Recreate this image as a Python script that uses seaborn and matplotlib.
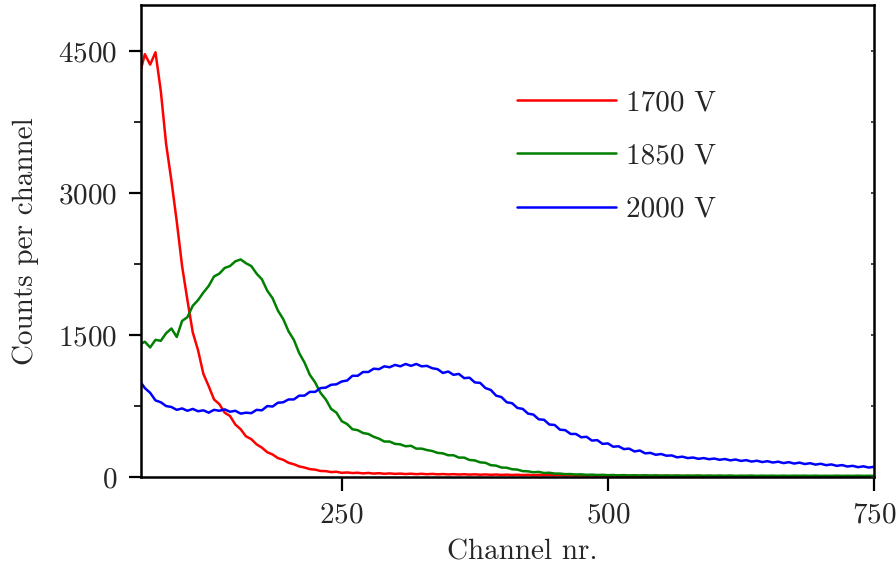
import numpy as np
import pandas as pd
import matplotlib
matplotlib.use("Agg")
import matplotlib.pyplot as plt
import seaborn as sns

# channel grid (every 5th channel)
channels = np.arange(60, 751, 5)

counts_1700 = [
    4250, 4470, 4360, 4490, 4080, 3520, 3130, 2700, 2230, 1870,
    1530, 1340, 1090, 960, 820, 770, 680, 645, 555, 505,
    430, 400, 345, 310, 262, 238, 200, 182, 150, 135,
    112, 100, 83, 78, 64, 62, 52, 55, 44, 48,
    42, 45, 38, 43, 36, 40, 34, 38, 33, 36,
    31, 35, 30, 34, 29, 33, 28, 31, 27, 30,
    26, 29, 25, 28, 24, 27, 23, 26, 22, 25,
    21, 24, 20, 23, 19, 22, 18, 21, 18, 20,
    17, 19, 16, 18, 15, 17, 14, 16, 14, 15,
    13, 15, 12, 14, 12, 13, 11, 13, 11, 12,
    10, 12, 10, 11, 9, 11, 9, 10, 9, 10,
    8, 10, 8, 9, 8, 9, 7, 9, 7, 8,
    7, 8, 7, 8, 6, 8, 6, 7, 6, 7,
    6, 7, 6, 7, 5, 6, 5, 6, 5,
]

counts_1850 = [
    1400, 1430, 1370, 1450, 1440, 1520, 1570, 1480, 1650, 1690,
    1810, 1870, 1950, 2020, 2120, 2150, 2210, 2230, 2280, 2300,
    2260, 2230, 2150, 2090, 1970, 1890, 1760, 1670, 1540, 1450,
    1310, 1210, 1080, 1000, 890, 820, 720, 680, 590, 560,
    505, 495, 465, 455, 425, 405, 375, 375, 350, 345,
    325, 330, 300, 300, 285, 275, 255, 250, 230, 230,
    205, 205, 180, 175, 155, 150, 125, 120, 100, 98,
    82, 78, 62, 60, 50, 54, 42, 45, 36, 36,
    30, 31, 26, 28, 23, 25, 21, 23, 19, 21,
    17, 20, 16, 18, 15, 18, 15, 17, 14, 16,
    14, 16, 13, 15, 14, 16, 13, 15, 13, 15,
    13, 15, 12, 14, 13, 15, 12, 14, 13, 14,
    12, 14, 12, 14, 13, 14, 12, 14, 12, 13,
    12, 14, 12, 13, 12, 14, 12, 13, 12,
]

counts_2000 = [
    1020, 940, 890, 810, 790, 750, 740, 710, 725, 700,
    720, 695, 705, 680, 710, 700, 715, 690, 700, 670,
    680, 675, 710, 705, 750, 745, 785, 790, 820, 820,
    860, 860, 900, 900, 940, 945, 975, 980, 1010, 1020,
    1070, 1070, 1110, 1110, 1145, 1140, 1170, 1160, 1185, 1170,
    1195, 1175, 1195, 1170, 1175, 1150, 1140, 1100, 1115, 1080,
    1090, 1045, 1050, 1000, 995, 940, 920, 860, 845, 790,
    780, 730, 720, 670, 660, 610, 605, 555, 550, 500,
    495, 455, 455, 420, 425, 385, 390, 350, 355, 320,
    325, 295, 300, 270, 280, 250, 255, 235, 243, 225,
    228, 208, 215, 200, 206, 192, 200, 188, 195, 182,
    190, 176, 185, 170, 178, 163, 172, 158, 167, 153,
    162, 147, 157, 142, 152, 137, 146, 131, 140, 125,
    133, 118, 126, 111, 118, 104, 113, 100, 108,
]

labels = ["1700 V", "1850 V", "2000 V"]
colors = ["#ff0000", "#008000", "#0000ff"]

df = pd.concat([
    pd.DataFrame({"channel": channels, "counts": c, "voltage": lab})
    for c, lab in zip([counts_1700, counts_1850, counts_2000], labels)
])

sns.set_style("ticks")
plt.rcParams["font.family"] = ["cmr10", "DejaVu Serif"]
plt.rcParams["mathtext.fontset"] = "cm"
plt.rcParams["axes.formatter.use_mathtext"] = True
plt.rcParams["axes.unicode_minus"] = False

fs = 21
fig = plt.figure(figsize=(8.96, 5.70), dpi=100)
ax = fig.add_axes([141 / 896, 1 - 477 / 570, 733 / 896, 472 / 570])

sns.lineplot(data=df, x="channel", y="counts", hue="voltage",
             palette=colors, linewidth=1.8, ax=ax)

ax.set_xlim(61.4, 750)
ax.set_ylim(0, 4990)
ax.set_xticks([250, 500, 750])
ax.set_yticks([0, 1500, 3000, 4500])
ax.set_yticks([750, 2250, 3750], minor=True)

ax.set_xlabel("Channel nr.", fontsize=fs)
ax.xaxis.set_label_coords(0.52, -0.132)
ax.set_ylabel("Counts per channel", fontsize=fs, labelpad=14)

for sp in ax.spines.values():
    sp.set_linewidth(1.8)
    sp.set_color("black")
ax.tick_params(axis="both", which="major", labelsize=fs, width=1.6,
               color="black", direction="out")
ax.tick_params(axis="x", which="major", length=10, pad=8)
ax.tick_params(axis="y", which="major", length=9, pad=8)
ax.tick_params(axis="y", which="minor", length=5, width=1.4, direction="out")

# tiny inward ticks on the right frame
rax = ax.twinx()
rax.set_ylim(ax.get_ylim())
rax.set_yticks([0, 1500, 3000, 4500])
rax.set_yticks([750, 2250, 3750], minor=True)
rax.tick_params(axis="y", which="both", direction="in", length=2, width=1.2,
                labelright=False)
for sp in rax.spines.values():
    sp.set_visible(False)

handles, labs = ax.get_legend_handles_labels()
ax.legend(handles, labs, loc="upper left", bbox_to_anchor=(517 / 896, 1 - 90 / 570),
          bbox_transform=fig.transFigure, frameon=False, fontsize=fs,
          handlelength=3.4, handletextpad=0.35, labelspacing=0.92,
          borderpad=0, borderaxespad=0)

fig.savefig("out.png", dpi=100)
